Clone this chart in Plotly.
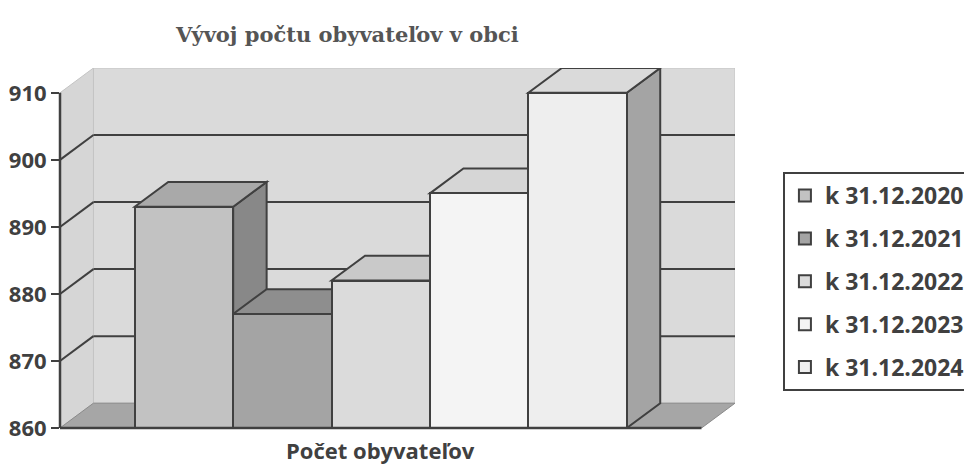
import plotly.graph_objects as go

# ---- data ----
chart_title = "Vývoj počtu obyvateľov v obci"
x_title = "Počet obyvateľov"
series = ["k 31.12.2020", "k 31.12.2021", "k 31.12.2022", "k 31.12.2023", "k 31.12.2024"]
values = [893, 877, 882, 895, 910]
y_ticks = [860, 870, 880, 890, 900, 910]

# ---- styles ----
front_colors = ["#c2c2c2", "#a4a4a4", "#dbdbdb", "#f4f4f4", "#eeeeee"]
top_colors = ["#a9a9a9", "#8e8e8e", "#c9c9c9", "#d6d6d6", "#dadada"]
side_colors = ["#888888", "#7a7a7a", "#a8a8a8", "#b4b4b4", "#a4a4a4"]
LINE = "#404040"
TEXT = "#404040"
BACK_WALL = "#dadada"
LEFT_WALL = "#d6d6d6"
FLOOR = "#a6a6a6"

BASE = y_ticks[0]
TOP = y_ticks[-1]
DX = 0.34      # depth offset in x units
DY = 3.7       # depth offset in y units
BAR_W = 1.0
GAP = 0.76

n = len(values)
pos = [i - (n - 1) / 2 for i in range(n)]
xL = pos[0] - BAR_W / 2 - GAP
xR = pos[-1] + BAR_W / 2 + GAP


def path(pts):
    return "M " + " L ".join(f"{x},{y}" for x, y in pts) + " Z"


shapes = []
# back wall
shapes.append(dict(type="path", layer="below", xref="x", yref="y",
                   path=path([(xL + DX, BASE + DY), (xR + DX, BASE + DY),
                              (xR + DX, TOP + DY), (xL + DX, TOP + DY)]),
                   fillcolor=BACK_WALL, line=dict(color="#c4c4c4", width=1)))
# left wall
shapes.append(dict(type="path", layer="below", xref="x", yref="y",
                   path=path([(xL, BASE), (xL + DX, BASE + DY),
                              (xL + DX, TOP + DY), (xL, TOP)]),
                   fillcolor=LEFT_WALL, line=dict(color="#c4c4c4", width=1)))
# floor
shapes.append(dict(type="path", layer="below", xref="x", yref="y",
                   path=path([(xL, BASE), (xR, BASE), (xR + DX, BASE + DY), (xL + DX, BASE + DY)]),
                   fillcolor=FLOOR, line=dict(color="#8a8a8a", width=1)))
# gridlines (back wall + left wall)
for t in y_ticks[1:-1]:
    shapes.append(dict(type="line", layer="below", xref="x", yref="y",
                       x0=xL + DX, x1=xR + DX, y0=t + DY, y1=t + DY,
                       line=dict(color=LINE, width=2)))
    shapes.append(dict(type="line", layer="below", xref="x", yref="y",
                       x0=xL, x1=xL + DX, y0=t, y1=t + DY,
                       line=dict(color=LINE, width=2)))
# bar tops and sides
for c, v, tc, sc in zip(pos, values, top_colors, side_colors):
    x0, x1 = c - BAR_W / 2, c + BAR_W / 2
    shapes.append(dict(type="path", layer="below", xref="x", yref="y",
                       path=path([(x1, BASE), (x1, v), (x1 + DX, v + DY), (x1 + DX, BASE + DY)]),
                       fillcolor=sc, line=dict(color=LINE, width=2)))
    shapes.append(dict(type="path", layer="below", xref="x", yref="y",
                       path=path([(x0, v), (x1, v), (x1 + DX, v + DY), (x0 + DX, v + DY)]),
                       fillcolor=tc, line=dict(color=LINE, width=2)))
# front floor edge
shapes.append(dict(type="line", layer="above", xref="x", yref="paper",
                   x0=xL, x1=xR, y0=0, y1=0, line=dict(color=LINE, width=2.5)))
# vertical value axis line
shapes.append(dict(type="line", layer="above", xref="paper", yref="y",
                   x0=0, x1=0, y0=BASE, y1=TOP, line=dict(color=LINE, width=2.5)))

fig = go.Figure()
for i, (name, v, fc) in enumerate(zip(series, values, front_colors)):
    fig.add_trace(go.Bar(
        x=[pos[i]], y=[v - BASE], base=[BASE], width=[BAR_W], name=name,
        legendgroup=name,
        marker=dict(color=fc, line=dict(color=LINE, width=2)),
        hovertemplate=f"{name}: {v}<extra></extra>",
    ))

# the page body adds an 8px offset, so the figure is sized 8px smaller
fig.update_layout(
    width=964, height=461,
    margin=dict(l=52, r=237, t=60, b=41, pad=0, autoexpand=False),
    paper_bgcolor="white", plot_bgcolor="white",
    barmode="overlay", bargap=0,
    shapes=shapes,
    showlegend=True,
    legend=dict(x=1.071, y=0.711, xanchor="left", yanchor="top",
                bordercolor=LINE, borderwidth=2, bgcolor="white",
                tracegroupgap=10,
                font=dict(family="Open Sans", size=23, color=TEXT, weight="bold")),
    xaxis=dict(range=[xL, xR + DX], showticklabels=False, showgrid=False,
               zeroline=False, showline=False, ticks=""),
    yaxis=dict(range=[BASE, TOP + DY], tickvals=y_ticks, ticks="outside",
               ticklen=8, tickwidth=2, tickcolor=LINE, showgrid=False,
               zeroline=False, showline=False,
               tickfont=dict(family="Open Sans", size=22, color=TEXT, weight="bold")),
    annotations=[
        dict(text=chart_title, xref="paper", yref="paper", x=0.425, y=1.092,
             xanchor="center", yanchor="middle", showarrow=False,
             font=dict(family="DejaVu Serif", size=21, color="#555555", weight="bold")),
        dict(text=x_title, xref="x", yref="paper", x=(xL + xR) / 2, y=-0.062,
             xanchor="center", yanchor="middle", showarrow=False,
             font=dict(family="Open Sans", size=22, color=TEXT, weight="bold")),
    ],
)

fig.write_html("out.html")
